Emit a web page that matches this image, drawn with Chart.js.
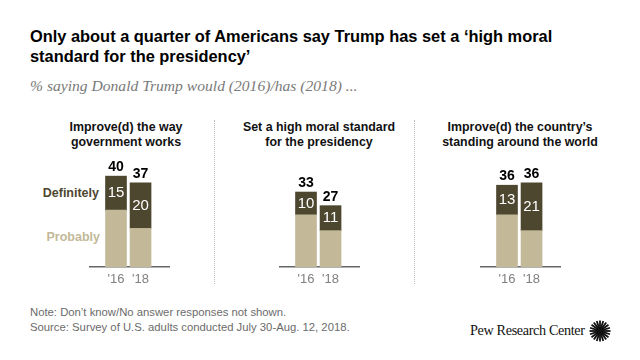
<!DOCTYPE html>
<html>
<head>
<meta charset="utf-8">
<script src="https://cdn.jsdelivr.net/npm/chart.js@4"></script>
<style>
    html, body { margin: 0; padding: 0; background: #fff; }
    #page { position: relative; width: 640px; height: 360px; overflow: hidden; font-family: "Liberation Sans", sans-serif; }
    #page div, #page canvas, #page svg { position: absolute; }
    .title { left: 30px; top: 26px; font-size: 16.4px; line-height: 20px; font-weight: 700; color: #000; white-space: nowrap; }
    .sub { left: 30px; top: 77px; font: italic 15.6px "Liberation Serif", serif; color: #7a7a7a; white-space: nowrap; }
    .panel-title { width: 200px; text-align: center; font-size: 12.4px; line-height: 15px; font-weight: 700; color: #111; }
    .sep { top: 120px; height: 164px; border-left: 1px dotted #bbb; }
    .key { width: 70px; text-align: right; font-size: 12.5px; font-weight: 700; white-space: nowrap; }
    .note { left: 30px; top: 305px; font-size: 11.3px; line-height: 15px; color: #6b6b6b; white-space: nowrap; }
    .brand { left: 470px; top: 322px; font: 14.2px "Liberation Serif", serif; letter-spacing: -0.35px; color: #111; white-space: nowrap; }
</style>
</head>
<body>
<div id="page">
    <div class="title">Only about a quarter of Americans say Trump has set a ‘high moral<br>standard for the presidency’</div>
    <div class="sub">% saying Donald Trump would (2016)/has (2018) ...</div>

    <div class="panel-title" style="left:26px;top:120px">Improve(d) the way<br>government works</div>
    <div class="panel-title" style="left:219px;top:120px">Set a high moral standard<br>for the presidency</div>
    <div class="panel-title" style="left:420px;top:120px">Improve(d) the country’s<br>standing around the world</div>

    <div class="sep" style="left:214px"></div>
    <div class="sep" style="left:414px"></div>

    <div class="key" style="left:29px;top:186px;color:#4d4730">Definitely</div>
    <div class="key" style="left:30px;top:230px;color:#c3b998">Probably</div>

    <canvas id="chart1" width="81" height="145" style="left:89px;top:150px"></canvas>
    <canvas id="chart2" width="81" height="145" style="left:279px;top:150px"></canvas>
    <canvas id="chart3" width="81" height="145" style="left:480px;top:150px"></canvas>

    <div class="note">Note: Don’t know/No answer responses not shown.<br>Source: Survey of U.S. adults conducted July 30-Aug. 12, 2018.</div>
    <div class="brand">Pew Research Center</div>
    <svg id="logo" width="24" height="24" style="left:587.5px;top:318.5px"></svg>
</div>

<script>
// data
const years = [2016, 2018];
const tickLabels = ["'16", "'18"];

const definitely1 = [15, 20];
const probably1 = [25, 17];
const totals1 = [40, 37];

const definitely2 = [10, 11];
const probably2 = [23, 16];
const totals2 = [33, 27];

const definitely3 = [13, 21];
const probably3 = [23, 16];
const totals3 = [36, 36];

const DARK = '#4d4730';
const LIGHT = '#c3b998';

// 数字はCanvasに直接描く (datalabelsプラグインが無いので)
const barLabels = {
    id: 'barLabels',
    afterDatasetsDraw(chart, args, opts) {
        const ctx = chart.ctx;
        const top = chart.getDatasetMeta(1).data;
        ctx.save();
        ctx.textAlign = 'center';
        ctx.textBaseline = 'middle';
        top.forEach((bar, i) => {
            ctx.fillStyle = '#fff';
            ctx.font = '15px "Liberation Sans"';
            ctx.fillText(chart.data.datasets[1].data[i].y, bar.x, (bar.y + bar.base) / 2);
            ctx.fillStyle = '#000';
            ctx.font = 'bold 14px "Liberation Sans"';
            ctx.fillText(opts.totals[i], bar.x, bar.y - 9);
        });
        ctx.restore();
    }
};

const points = (values) => values.map((v, i) => ({ x: years[i], y: v }));

const makeChart = (id, probably, definitely, totals) => {
    new Chart(document.getElementById(id), {
        type: 'bar',
        data: {
            datasets: [
                { label: 'Probably', data: points(probably), backgroundColor: LIGHT, barThickness: 21 },
                { label: 'Definitely', data: points(definitely), backgroundColor: DARK, barThickness: 21 }
            ]
        },
        options: {
            responsive: false,
            animation: false,
            layout: { padding: 0 },
            plugins: {
                legend: { display: false },
                tooltip: { enabled: false },
                barLabels: { totals: totals }
            },
            scales: {
                x: {
                    type: 'linear',
                    stacked: true,
                    offset: false, // barのデフォルトはtrueで間隔が半分になる
                    min: 2013.8,
                    max: 2020.4,
                    afterBuildTicks: (scale) => { scale.ticks = years.map(v => ({ value: v })); },
                    afterFit: (scale) => { scale.height = 28; },
                    grid: { display: false, tickLength: 0 },
                    border: { display: true, color: '#666', width: 1.5 },
                    ticks: {
                        autoSkip: false,
                        maxRotation: 0,
                        padding: 5,
                        color: '#808080',
                        font: { family: '"Liberation Sans"', size: 13 },
                        callback: (v) => tickLabels[years.indexOf(v)]
                    }
                },
                y: { display: false, stacked: true, min: 0, max: 51.5 }
            }
        },
        plugins: [barLabels]
    });
};

makeChart('chart1', probably1, definitely1, totals1);
makeChart('chart2', probably2, definitely2, totals2);
makeChart('chart3', probably3, definitely3, totals3);

// ロゴの放射線
const logo = document.getElementById('logo');
let spokes = '';
for (let a = 0; a < 20; a++) {
    const r = a * Math.PI / 10;
    const x1 = 12 + 2 * Math.cos(r), y1 = 12 + 2 * Math.sin(r);
    const x2 = 12 + 10.5 * Math.cos(r), y2 = 12 + 10.5 * Math.sin(r);
    spokes += `<line x1="${x1}" y1="${y1}" x2="${x2}" y2="${y2}" stroke="#111" stroke-width="1.8"/>`;
}
logo.innerHTML = spokes + '<circle cx="12" cy="12" r="2.5" fill="#111"/>';
</script>
</body>
</html>
